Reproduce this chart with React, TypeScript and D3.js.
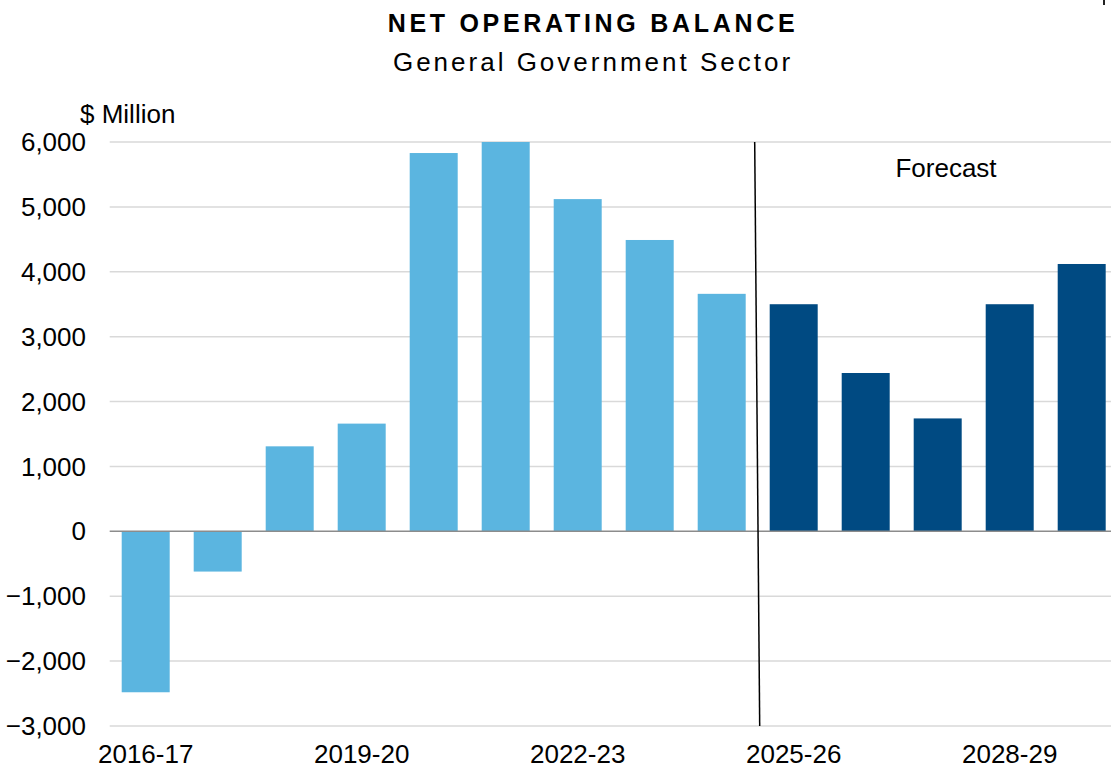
import React from "react";
import * as d3 from "d3";

const categories = [
  "2016-17", "2017-18", "2018-19", "2019-20", "2020-21", "2021-22", "2022-23",
  "2023-24", "2024-25", "2025-26", "2026-27", "2027-28", "2028-29", "2029-30",
];
const values = [-2480, -620, 1310, 1660, 5830, 6000, 5120, 4490, 3660, 3500, 2440, 1740, 3500, 4120];
const forecastFlags = [false, false, false, false, false, false, false, false, false, true, true, true, true, true];
const yTicks = [-3000, -2000, -1000, 0, 1000, 2000, 3000, 4000, 5000, 6000];
const xLabelShown = ["2016-17", "2019-20", "2022-23", "2025-26", "2028-29"];

const W = 1111;
const H = 769;
const FONT = "'Liberation Sans', Arial, sans-serif";
const LIGHT = "#5bb5e0";
const DARK = "#004a82";

export default function App() {
  const x = d3
    .scaleBand<string>()
    .domain(categories)
    .range([109.7, 109.7 + 14 * 72])
    .paddingInner(1 / 3)
    .paddingOuter(1 / 6);
  const y = d3.scaleLinear().domain([-3000, 6000]).range([726, 142]);
  const fmt = d3.format(",");
  const bw = x.bandwidth();
  const sepX = (x(categories[9]) as number) - x.step() * (1 / 6);

  return (
    <svg
      width={W}
      height={H}
      style={{ position: "absolute", left: 0, top: 0, background: "#fff" }}
      fontFamily={FONT}
    >
      <rect x={0} y={0} width={W} height={H} fill="#fff" />
      <line x1={1104} x2={1104} y1={0} y2={5} stroke="#222" strokeWidth={2} />
      <text x={593} y={32} textAnchor="middle" fontSize={25} fontWeight="bold" letterSpacing={3.7} fill="#000">
        NET OPERATING BALANCE
      </text>
      <text x={593} y={71} textAnchor="middle" fontSize={26} letterSpacing={3} fill="#000">
        General Government Sector
      </text>
      <text x={80} y={123} fontSize={26} fill="#000">$ Million</text>

      {yTicks.map((t) => (
        <g key={t}>
          {t !== 0 && (
            <line x1={109.7} x2={W} y1={y(t)} y2={y(t)} stroke="#d9d9d9" strokeWidth={1.5} />
          )}
          <text x={86} y={y(t)} dy="0.35em" textAnchor="end" fontSize={26} fill="#000">
            {fmt(t)}
          </text>
        </g>
      ))}

      {categories.map((c, i) => {
        const v = values[i];
        return (
          <rect
            key={c}
            x={x(c)}
            width={bw}
            y={Math.min(y(v), y(0))}
            height={Math.abs(y(v) - y(0))}
            fill={forecastFlags[i] ? DARK : LIGHT}
          />
        );
      })}

      <line x1={109.7} x2={W} y1={y(0)} y2={y(0)} stroke="#8c8c8c" strokeWidth={1.5} />

      {xLabelShown.map((c) => (
        <text
          key={c}
          x={(x(c) as number) + bw / 2}
          y={763}
          textAnchor="middle"
          fontSize={26}
          fill="#000"
        >
          {c}
        </text>
      ))}

      <line x1={sepX - 3} y1={y(6000)} x2={sepX + 2} y2={y(-3000)} stroke="#000" strokeWidth={1.5} />
      <text x={946} y={177} textAnchor="middle" fontSize={26} fill="#000">Forecast</text>
    </svg>
  );
}
